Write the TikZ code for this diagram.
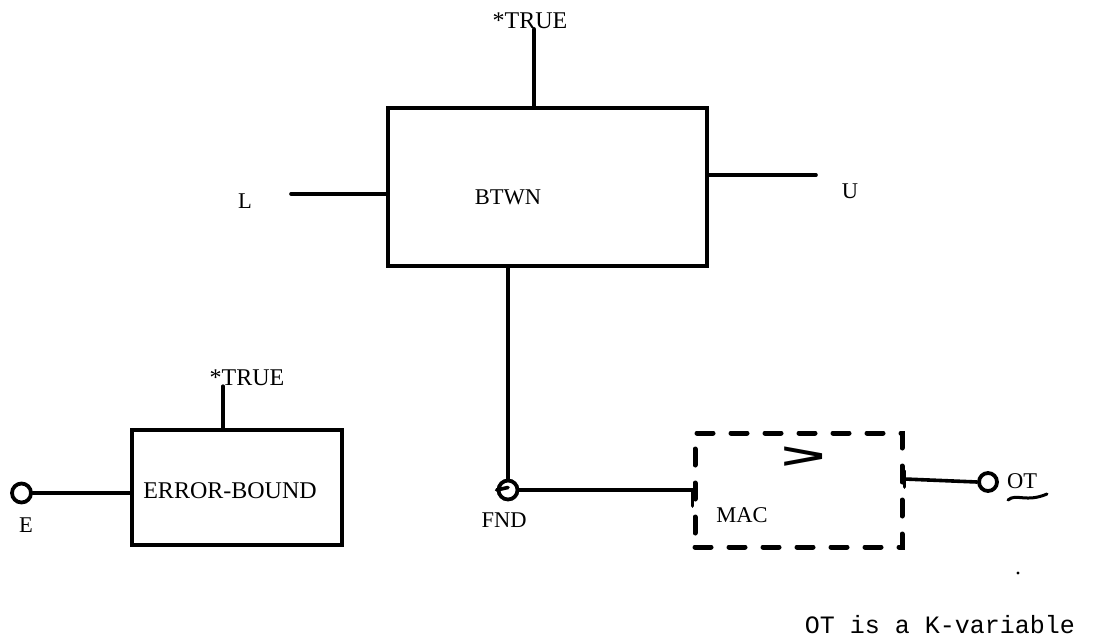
\documentclass[tikz,border=0pt]{standalone}
\usepackage{fontspec}
\setmainfont{Liberation Serif}
\newfontfamily\monofont{Liberation Mono}
\newfontfamily\gtfont{Liberation Sans}
\begin{document}
\begin{tikzpicture}[x=1pt,y=-1pt,
  wire/.style={line width=3.6pt,line cap=round},
  blk/.style={draw,line width=4.4pt,inner sep=0pt},
  dblk/.style={draw,line width=5pt,dash pattern=on 16pt off 18pt,line cap=round,inner sep=0pt},
  port/.style={draw,circle,line width=3.8pt,minimum size=19pt,inner sep=0pt},
  lab/.style={inner sep=0pt,font=\fontsize{22.5}{24}\selectfont},
  biglab/.style={inner sep=0pt,font=\fontsize{24}{26}\selectfont},
  note/.style={inner sep=0pt,font=\monofont\fontsize{25}{27}\selectfont}]
\useasboundingbox (0,0) rectangle (1094,643);
% BTWN block
\node[blk,minimum width=319pt,minimum height=158pt] (btwn) at (547.5,187) {};
\node[lab] (btwnl) at (508,197) {BTWN};
\node[biglab] (t1) at (530,21) {*TRUE};
\node[lab] (L) at (245,201) {L};
\node[lab] (U) at (850,191) {U};
\coordinate (Lend) at (291,194);
\coordinate (Uend) at (816,175);
\draw[wire] ([xshift=4pt]t1.south) -- ([xshift=4pt]t1.south |- btwn.north);
\draw[wire] (Lend) -- (Lend -| btwn.west);
\draw[wire] (Uend -| btwn.east) -- (Uend);
% ERROR-BOUND block
\node[blk,minimum width=210pt,minimum height=115pt] (eb) at (237,487.5) {};
\node[biglab] (ebl) at (230,491) {ERROR-BOUND};
\node[biglab] (t2) at (247,378) {*TRUE};
\draw[wire] ([xshift=-24pt]t2.south) -- ([xshift=-24pt]t2.south |- eb.north);
% ports
\node[port] (e) at (21.5,493) {};
\node[lab] (el) at (26,525) {E};
\node[port] (fnd) at (508,490) {};
\node[lab] (fndl) at (504,520) {FND};
\node[port,minimum size=18pt] (ot) at (988,482) {};
\node[lab] (otl) at (1022,481) {OT};
% MAC block
\node[dblk,minimum width=207pt,minimum height=114pt] (mac) at (798.5,490) {};
\node[lab] (macl) at (742,515) {MAC};
\node[inner sep=0pt,font=\gtfont\bfseries\fontsize{36}{36}\selectfont] (gt) at (804,458) {\scalebox{2.1}[1]{>}};
% connectors
\draw[wire] (e.east) -- (e -| eb.west);
\draw[wire] (fnd |- eb.east) -- (fnd.west);
\draw[wire] (fnd |- btwn.south) -- (fnd.north);
\coordinate (macin) at (mac.west |- fnd);
\draw[wire] (fnd.east) -- (macin) -- ([yshift=-16pt]macin);
\coordinate (macout) at ([yshift=3pt]mac.east |- ot);
\draw[wire] ([yshift=-8pt]macout) -- ([yshift=8pt]macout);
\draw[wire] (macout) -- (ot.west);
% underline mark under OT
\draw[line width=3pt,line cap=round] (1008,500) .. controls (1016,493) and (1026,503) .. (1047,494);
\fill (1018,573) circle (1.6pt);
\node[note] (n) at (940,625) {OT is a K-variable};
\end{tikzpicture}
\end{document}
